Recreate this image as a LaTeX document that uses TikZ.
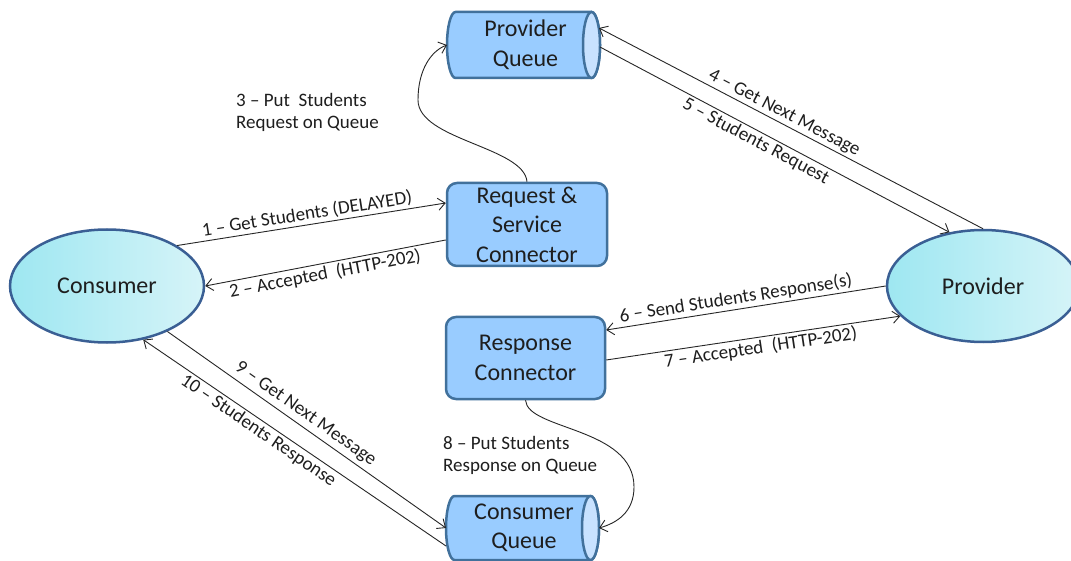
\documentclass[tikz,border=0pt]{standalone}
\usepackage{fontspec}
\setmainfont{Carlito}
\usetikzlibrary{shapes.geometric,arrows.meta}
\definecolor{boxfill}{HTML}{99CCFF}
\definecolor{boxline}{HTML}{41719C}
\definecolor{endfill}{HTML}{C8E2FF}
\definecolor{elline}{HTML}{3A5F94}
\definecolor{elleft}{HTML}{9EE7F1}
\definecolor{elright}{HTML}{D6F4F8}
\definecolor{txt}{HTML}{1E1E1E}
\newcommand{\nodefont}{\fontsize{24}{29.5}\selectfont}
\newcommand{\labfont}{\fontsize{19}{22}\selectfont}
% horizontal cylinder drawn round a rectangle node: #1 node name, #2 half height
\newcommand{\queuebody}[2]{%
  \path[draw=boxline, line width=2.5pt, fill=boxfill]
    ([xshift=8.5pt]#1.north west) -- ([xshift=-8.5pt]#1.north east)
    arc[start angle=90, end angle=-90, x radius=8.5pt, y radius=#2]
    -- ([xshift=8.5pt]#1.south west)
    arc[start angle=270, end angle=90, x radius=8.5pt, y radius=#2] -- cycle;
  \path[draw=boxline, line width=2.5pt, fill=endfill]
    ([xshift=-8.5pt]#1.east) ellipse[x radius=8.5pt, y radius=#2];
}
\begin{document}
\begin{tikzpicture}[x=1pt,y=-1pt,
 every node/.style={text=txt},
 connbox/.style={rectangle, rounded corners=10pt, draw=boxline, line width=2.5pt, fill=boxfill, minimum width=160pt, minimum height=83pt, inner sep=0pt, align=center, font=\nodefont},
 queue/.style={rectangle, minimum width=153pt, minimum height=66pt, inner sep=0pt, outer sep=0pt, align=center, font=\nodefont},
 party/.style={ellipse, draw=elline, line width=2.5pt, left color=elleft, right color=elright, inner sep=0pt, font=\nodefont},
 flow/.style={draw=black!85, line width=0.9pt, -{Straight Barb[length=7pt,width=12pt]}},
 lab/.style={font=\labfont, sloped, inner sep=2pt},
 note/.style={font=\labfont, align=left, inner sep=0pt, anchor=north west}]
\useasboundingbox (0,0) rectangle (1071,561);
\clip (0,0) rectangle (1071,561);
\fill[white] (0,0) rectangle (1071,561);

\node[party, minimum width=194pt, minimum height=113pt] (cons) at (107,286) {Consumer};
\node[party, minimum width=192pt, minimum height=112pt] (prov) at (983,286) {Provider};
\node[connbox] (req) at (527,224.5) {Request \&\\Service\\Connector};
\node[connbox, minimum width=159pt, minimum height=82pt] (resp) at (525.5,358) {Response\\Connector};

\path (523.5,45) node[queue] (pq) {};
\queuebody{pq}{33pt}
\node[queue, anchor=center] (pqt) at ([xshift=2pt]pq.center) {Provider\\Queue};
\path (522.5,528) node[queue, minimum height=64pt] (cq) {};
\queuebody{cq}{32pt}
\node[queue, minimum height=64pt] (cqt) at ([xshift=1.5pt]cq.center) {Consumer\\Queue};

\draw[flow] (cons.30) -- node[lab, above, pos=0.49] {1 – Get Students (DELAYED)} ([yshift=21.5pt]req.west);
\draw[flow] ([yshift=-15.5pt]req.west) -- node[lab, below, pos=0.51] {2 – Accepted\ \ (HTTP-202)} (cons.east);
\draw[flow] (prov.north) -- node[lab, above, pos=0.53] {4 – Get Next Message} ([xshift=-1pt,yshift=17pt]pq.east);
\draw[flow] ([yshift=-2pt]pq.east) -- node[lab, below, pos=0.46] {5 – Students Request} (prov.122);
\draw[flow] (prov.west) -- node[lab, above, pos=0.53] {6 – Send Students Response(s)} ([yshift=28pt]resp.east);
\draw[flow] ([yshift=-2pt]resp.east) -- node[lab, below, pos=0.52] {7 – Accepted\ \ (HTTP-202)} (prov.200);
\draw[flow] (cons.-37) -- node[lab, above, pos=0.47, inner sep=4pt] {9 – Get Next Message} (cq.west);
\draw[flow] ([yshift=-18pt]cq.west) -- node[lab, below, pos=0.6] {10 – Students Response} (cons.-56);

\coordinate (m3) at (418,100);
\draw[flow] (req.north) .. controls +(-3,-35) and +(0,40) .. (m3) .. controls +(0,-30) and +(-16,6) .. (pq.west);
\node[note] (l3) at (236,93) {3 – Put\ \ Students\\Request on Queue};

\coordinate (m8) at (634,487);
\draw[flow] (resp.south) .. controls +(2,30) and +(0,-60) .. (m8) .. controls +(0,25) and +(18,-5) .. (cq.east);
\node[note] (l8) at (443,436) {8 – Put Students\\Response on Queue};
\end{tikzpicture}
\end{document}
